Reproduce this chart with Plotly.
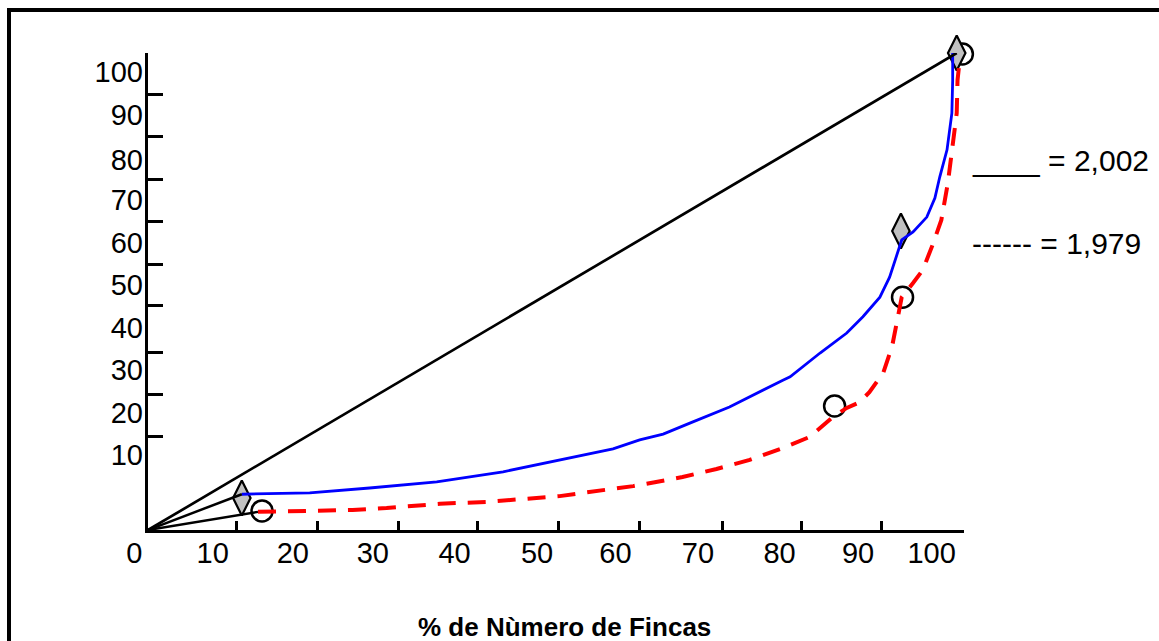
import plotly.graph_objects as go

W, H = 1159, 641

# ---- data ----
blue_x = [11.6, 20.0, 27.4, 35.7, 43.9, 50.9, 57.5, 60.8, 63.7, 67.0, 71.9, 78.5, 79.4,
          83.1, 86.4, 88.4, 90.5, 91.7, 92.7, 93.2, 94.6, 96.3, 97.3, 97.9, 98.8, 99.4, 99.5, 99.5]
blue_y = [7.5, 7.8, 8.8, 10.1, 12.2, 14.7, 17.0, 18.9, 20.1, 22.4, 25.8, 31.4, 32.1,
          37.1, 41.3, 44.7, 48.8, 53.0, 58.1, 60.8, 62.5, 65.6, 69.6, 74.0, 79.7, 87.4, 94.3, 100.0]

red_x = [13.6, 21.3, 25.3, 29.5, 36.1, 41.9, 50.9, 53.8, 60.0, 66.1, 70.3, 74.4, 78.5, 81.8,
         84.7, 86.4, 88.0, 89.2, 90.9, 92.0, 92.7, 93.2, 94.6, 95.8, 97.0, 98.1, 98.9, 99.5,
         100.0, 100.1, 100.4]
red_y = [3.8, 4.0, 4.2, 4.6, 5.5, 5.9, 7.1, 7.8, 9.2, 11.1, 12.8, 14.7, 17.2, 19.5,
         23.7, 25.6, 26.8, 28.9, 32.9, 38.4, 44.0, 48.8, 51.8, 54.5, 59.7, 65.0, 72.7, 80.3,
         87.4, 94.3, 99.0]

equality_x = [0, 100]
equality_y = [0, 100]

diamond_x = [11.6, 93.1, 100.0]
diamond_y = [6.7, 62.7, 100.0]
circle_x = [14.1, 84.9, 93.3, 100.7]
circle_y = [4.0, 26.0, 48.8, 99.8]

x_tick_marks = [10.9, 20.9, 31.0, 40.7, 50.7, 60.8, 71.0, 80.8, 90.7]
y_tick_marks = [19.7, 28.5, 37.3, 47.0, 55.6, 64.6, 73.4, 82.4, 91.4]
x_label_pos = [-1.7, 8.0, 17.9, 27.8, 37.9, 48.1, 57.8, 68.0, 78.1, 87.8, 96.9]
x_label_txt = ["0", "10", "20", "30", "40", "50", "60", "70", "80", "90", "100"]
y_label_pos = [15.7, 24.5, 33.5, 42.4, 51.4, 60.2, 69.2, 77.6, 87.0, 96.0]
y_label_txt = ["10", "20", "30", "40", "50", "60", "70", "80", "90", "100"]

x_title = "% de Nùmero de Fincas"
legend_1 = "____ = 2,002"
legend_2 = "------ = 1,979"

FONT = "Arial, Liberation Sans, sans-serif"

# ---- pixel layout helpers ----
def px(x):
    return x / W

def py(y):
    return 1 - y / H

X_LEFT, X_RIGHT = 148, 964
Y_TOP, Y_BOTTOM = 53, 530
X_RANGE = [0, 100.9]
Y_RANGE = [0, 100]
ppu = (X_RIGHT - X_LEFT) / (X_RANGE[1] - X_RANGE[0])
LBL_LEFT = 100
lbl_range = [-(X_LEFT - LBL_LEFT) / ppu, X_RANGE[1]]

fig = go.Figure()

fig.add_trace(go.Scatter(x=circle_x, y=circle_y, mode="markers", cliponaxis=False,
                         marker=dict(symbol="circle", size=21, color="rgba(0,0,0,0)",
                                     line=dict(color="black", width=2.5)),
                         showlegend=False))
fig.add_trace(go.Scatter(x=diamond_x, y=diamond_y, mode="markers", cliponaxis=False,
                         marker=dict(symbol="diamond-tall", size=25, color="#c0c0c0",
                                     line=dict(color="black", width=2.2)),
                         showlegend=False))
fig.add_trace(go.Scatter(x=blue_x, y=blue_y, mode="lines",
                         line=dict(color="#0000ff", width=2.8), showlegend=False))
fig.add_trace(go.Scatter(x=red_x, y=red_y, mode="lines", cliponaxis=False,
                         line=dict(color="#ff0000", width=4, dash="18px,12px"),
                         showlegend=False))
# equality line drawn on the label x-axis (same scale and origin as the main x-axis)
fig.add_trace(go.Scatter(x=equality_x, y=equality_y, mode="lines", xaxis="x2", yaxis="y",
                         line=dict(color="black", width=2.7), showlegend=False))
# lines from the origin to the first point of each curve, on the label y-axis (same scale)
fig.add_trace(go.Scatter(x=[0, blue_x[0]], y=[0, blue_y[0]], mode="lines", xaxis="x", yaxis="y2",
                         line=dict(color="black", width=2.5), showlegend=False))
fig.add_trace(go.Scatter(x=[0, red_x[0]], y=[0, red_y[0]], mode="lines", xaxis="x", yaxis="y2",
                         line=dict(color="black", width=2.5), showlegend=False))

fig.update_layout(
    width=W, height=H,
    margin=dict(l=0, r=0, t=0, b=0),
    paper_bgcolor="white",
    plot_bgcolor="rgba(0,0,0,0)",
    showlegend=False,
    font=dict(family=FONT, color="black", size=29),
    xaxis=dict(domain=[px(X_LEFT), px(X_RIGHT)], range=X_RANGE, anchor="y",
               showline=True, linecolor="black", linewidth=3,
               ticks="inside", ticklen=9, tickwidth=3, tickcolor="black",
               tickmode="array", tickvals=x_tick_marks, showticklabels=False,
               showgrid=False, zeroline=False),
    yaxis=dict(domain=[py(Y_BOTTOM), py(Y_TOP)], range=Y_RANGE, anchor="x",
               showline=True, linecolor="black", linewidth=3,
               ticks="inside", ticklen=15, tickwidth=3, tickcolor="black",
               tickmode="array", tickvals=y_tick_marks, showticklabels=False,
               showgrid=False, zeroline=False),
    xaxis2=dict(domain=[px(LBL_LEFT), px(X_RIGHT)], range=lbl_range, anchor="y",
                showline=False, ticks="", tickmode="array", tickvals=x_label_pos,
                ticktext=x_label_txt, showgrid=False, zeroline=False,
                tickfont=dict(size=29, family=FONT, color="black"),
                ticklabelstandoff=3),
    yaxis2=dict(overlaying="y", anchor="x", range=Y_RANGE, side="left",
                showline=False, ticks="", tickmode="array", tickvals=y_label_pos,
                ticktext=y_label_txt, showgrid=False, zeroline=False,
                tickfont=dict(size=29, family=FONT, color="black"),
                ticklabelstandoff=4),
)

# outer frame (open to the right and bottom, as in the picture)
fig.add_shape(type="path", xref="paper", yref="paper",
              path=f"M {px(1170)} {py(10)} L {px(9)} {py(10)} L {px(9)} {py(660)}",
              line=dict(color="black", width=4))

fig.add_annotation(text=f"<b>{x_title}</b>", xref="paper", yref="paper",
                   x=px(564), y=py(627), xanchor="center", yanchor="middle", showarrow=False,
                   font=dict(size=26, family=FONT, color="black"))
fig.add_annotation(text=legend_1, xref="paper", yref="paper",
                   x=px(970), y=py(160), xanchor="left", yanchor="middle", showarrow=False,
                   font=dict(size=30, family=FONT, color="black"))
fig.add_annotation(text=legend_2, xref="paper", yref="paper",
                   x=px(970), y=py(243), xanchor="left", yanchor="middle", showarrow=False,
                   font=dict(size=30, family=FONT, color="black"))

fig.write_html("out.html", config={"displayModeBar": False},
               post_script="document.body.style.margin='0';document.body.style.overflow='hidden';")
